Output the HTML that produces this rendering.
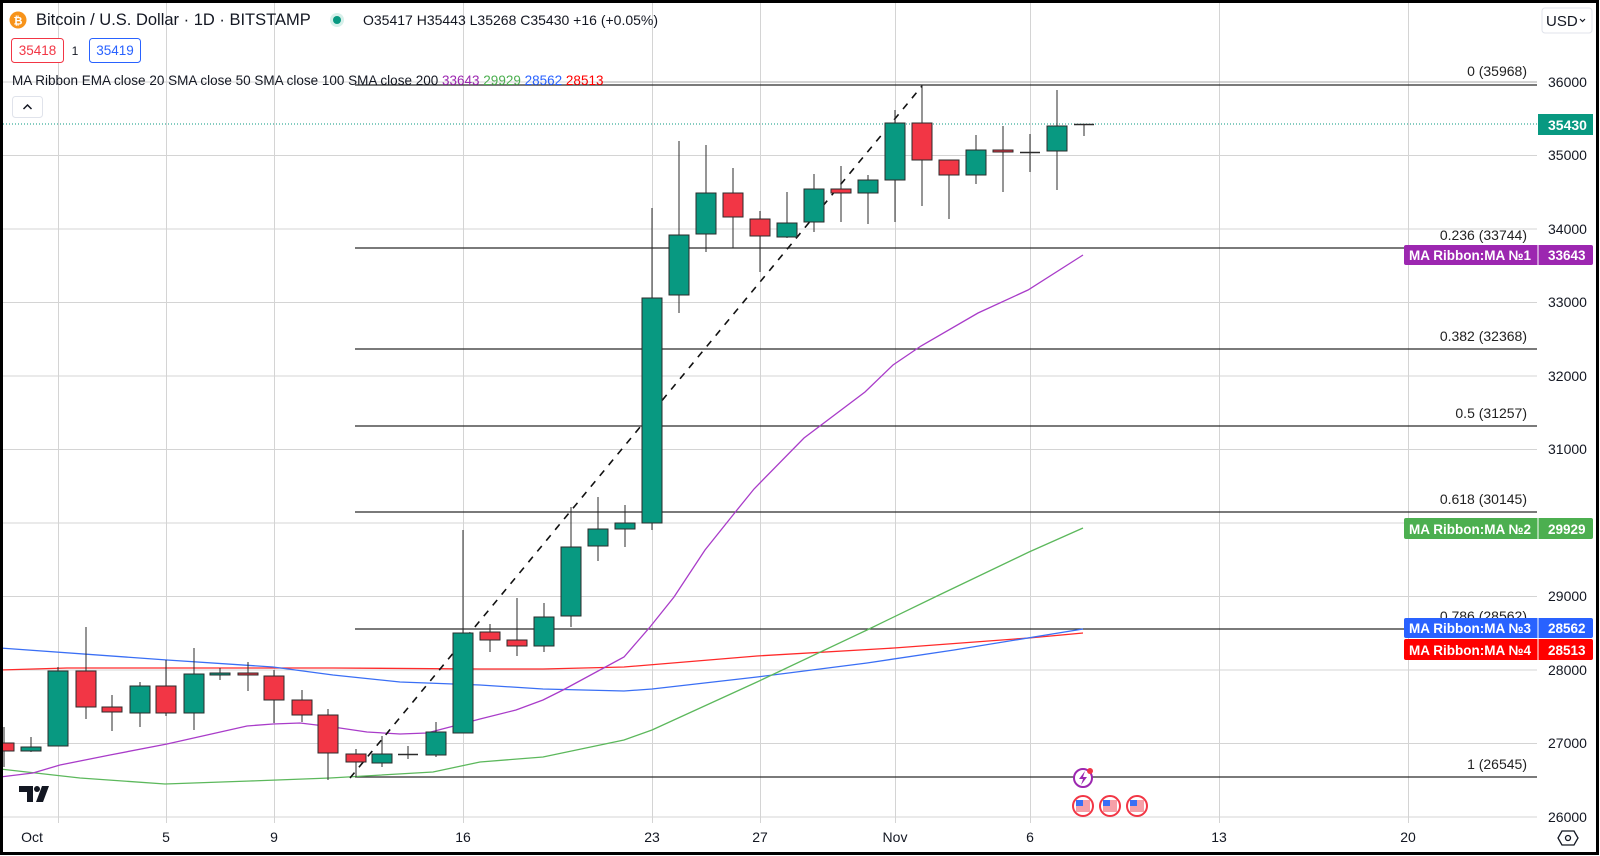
<!DOCTYPE html>
<html><head><meta charset="utf-8"><style>
html,body{margin:0;padding:0;background:#fff;}
body{width:1600px;height:856px;overflow:hidden;position:relative;font-family:"Liberation Sans",sans-serif;}
svg{position:absolute;left:0;top:0;}
</style></head><body>
<svg width="1600" height="856" viewBox="0 0 1600 856" xmlns="http://www.w3.org/2000/svg" font-family="Liberation Sans, sans-serif">
<rect width="1600" height="856" fill="#fff"/>
<g stroke="#d4d4d4" stroke-width="1">
<line x1="0" y1="82" x2="1537" y2="82"/><line x1="0" y1="155.5" x2="1537" y2="155.5"/><line x1="0" y1="229" x2="1537" y2="229"/>
<line x1="0" y1="302.5" x2="1537" y2="302.5"/><line x1="0" y1="376" x2="1537" y2="376"/><line x1="0" y1="449.5" x2="1537" y2="449.5"/>
<line x1="0" y1="523" x2="1537" y2="523"/><line x1="0" y1="596.5" x2="1537" y2="596.5"/><line x1="0" y1="670" x2="1537" y2="670"/>
<line x1="0" y1="743.5" x2="1537" y2="743.5"/><line x1="0" y1="817" x2="1537" y2="817"/>
<line x1="58.5" y1="0" x2="58.5" y2="823"/><line x1="166.5" y1="0" x2="166.5" y2="823"/><line x1="274.5" y1="0" x2="274.5" y2="823"/>
<line x1="463.5" y1="0" x2="463.5" y2="823"/><line x1="652.5" y1="0" x2="652.5" y2="823"/><line x1="760.5" y1="0" x2="760.5" y2="823"/>
<line x1="895.5" y1="0" x2="895.5" y2="823"/><line x1="1030.5" y1="0" x2="1030.5" y2="823"/><line x1="1219.5" y1="0" x2="1219.5" y2="823"/>
<line x1="1408.5" y1="0" x2="1408.5" y2="823"/>
</g>
<g stroke="#2a2a2a" stroke-width="1.2">
<line x1="355" y1="85" x2="1537" y2="85"/>
<line x1="355" y1="248" x2="1537" y2="248"/>
<line x1="355" y1="349" x2="1537" y2="349"/>
<line x1="355" y1="426" x2="1537" y2="426"/>
<line x1="355" y1="512" x2="1537" y2="512"/>
<line x1="355" y1="629" x2="1537" y2="629"/>
<line x1="355" y1="777" x2="1537" y2="777"/>
</g>
<line x1="601" y1="82" x2="1537" y2="82" stroke="#aaa" stroke-width="1"/>
<g font-size="14" fill="#222" text-anchor="end">
<text x="1527" y="76">0 (35968)</text>
<text x="1527" y="240">0.236 (33744)</text>
<text x="1527" y="341">0.382 (32368)</text>
<text x="1527" y="418">0.5 (31257)</text>
<text x="1527" y="504">0.618 (30145)</text>
<text x="1527" y="621">0.786 (28562)</text>
<text x="1527" y="769">1 (26545)</text>
</g>
<line x1="0" y1="124" x2="1537" y2="124" stroke="#089981" stroke-width="1" stroke-dasharray="1 2"/>
<g fill="none" stroke-width="1.3">
<polyline stroke="#ff2a2a" points="0,670 67,668 200,668 333,668 480,669 543,669 624,667 757,656 894,648 1029,638 1083,633"/>
<polyline stroke="#3a6ff5" points="0,648 167,660 273,667 333,675 400,682 480,685 543,689 624,691 652,689 757,677 867,663 954,650 1083,629"/>
<polyline stroke="#5cb85c" points="0,769 80,778 165,784 250,781 330,778 433,772 480,762 543,757 624,740 652,730 757,682 867,630 935,597 1029,552 1083,528"/>
<polyline stroke="#a93cc9" points="0,777 33,773 60,765 110,755 167,744 247,726 273,724 300,723 333,727 367,732 400,734 427,733 450,727 480,719 516,710 543,700 563,690 624,657 650,627 674,597 705,550 737,510 754,489 804,438 865,392 893,365 921,346 978,313 1028,290 1083,255"/>
</g>
<line x1="350" y1="778" x2="922" y2="86" stroke="#111" stroke-width="1.6" stroke-dasharray="7 7"/>
<g stroke="#2b2b2b" stroke-width="1">
<line x1="4" y1="727" x2="4" y2="767"/><rect x="-6" y="743" width="20" height="8" fill="#F23645"/>
<line x1="31" y1="737" x2="31" y2="752"/><rect x="21" y="747" width="20" height="4" fill="#089981"/>
<line x1="58" y1="667" x2="58" y2="746"/><rect x="48" y="671" width="20" height="75" fill="#089981"/>
<line x1="86" y1="627" x2="86" y2="719"/><rect x="76" y="671" width="20" height="36" fill="#F23645"/>
<line x1="112" y1="695" x2="112" y2="731"/><rect x="102" y="707" width="20" height="5" fill="#F23645"/>
<line x1="140" y1="682" x2="140" y2="727"/><rect x="130" y="686" width="20" height="27" fill="#089981"/>
<line x1="166" y1="660" x2="166" y2="716"/><rect x="156" y="686" width="20" height="27" fill="#F23645"/>
<line x1="194" y1="648" x2="194" y2="730"/><rect x="184" y="674" width="20" height="39" fill="#089981"/>
<line x1="220" y1="668" x2="220" y2="680"/><rect x="210" y="673" width="20" height="2" fill="#089981"/>
<line x1="248" y1="662" x2="248" y2="691"/><rect x="238" y="673" width="20" height="2" fill="#F23645"/>
<line x1="274" y1="670" x2="274" y2="723"/><rect x="264" y="676" width="20" height="24" fill="#F23645"/>
<line x1="302" y1="690" x2="302" y2="722"/><rect x="292" y="700" width="20" height="15" fill="#F23645"/>
<line x1="328" y1="709" x2="328" y2="780"/><rect x="318" y="715" width="20" height="38" fill="#F23645"/>
<line x1="356" y1="749" x2="356" y2="777"/><rect x="346" y="754" width="20" height="8" fill="#F23645"/>
<line x1="382" y1="736" x2="382" y2="767"/><rect x="372" y="754" width="20" height="9" fill="#089981"/>
<line x1="408" y1="746" x2="408" y2="759"/><line x1="398" y1="754.5" x2="418" y2="754.5" stroke-width="1.5"/>
<line x1="436" y1="722" x2="436" y2="757"/><rect x="426" y="732" width="20" height="23" fill="#089981"/>
<line x1="463" y1="530" x2="463" y2="733"/><rect x="453" y="633" width="20" height="100" fill="#089981"/>
<line x1="490" y1="624" x2="490" y2="652"/><rect x="480" y="632" width="20" height="8" fill="#F23645"/>
<line x1="517" y1="598" x2="517" y2="656"/><rect x="507" y="640" width="20" height="6" fill="#F23645"/>
<line x1="544" y1="603" x2="544" y2="652"/><rect x="534" y="617" width="20" height="29" fill="#089981"/>
<line x1="571" y1="507" x2="571" y2="627"/><rect x="561" y="547" width="20" height="69" fill="#089981"/>
<line x1="598" y1="497" x2="598" y2="561"/><rect x="588" y="529" width="20" height="17" fill="#089981"/>
<line x1="625" y1="505" x2="625" y2="547"/><rect x="615" y="523" width="20" height="6" fill="#089981"/>
<line x1="652" y1="208" x2="652" y2="530"/><rect x="642" y="298" width="20" height="225" fill="#089981"/>
<line x1="679" y1="141" x2="679" y2="313"/><rect x="669" y="235" width="20" height="60" fill="#089981"/>
<line x1="706" y1="145" x2="706" y2="252"/><rect x="696" y="193" width="20" height="41" fill="#089981"/>
<line x1="733" y1="168" x2="733" y2="248"/><rect x="723" y="193" width="20" height="24" fill="#F23645"/>
<line x1="760" y1="211" x2="760" y2="272"/><rect x="750" y="219" width="20" height="17" fill="#F23645"/>
<line x1="787" y1="192" x2="787" y2="238"/><rect x="777" y="223" width="20" height="14" fill="#089981"/>
<line x1="814" y1="174" x2="814" y2="232"/><rect x="804" y="189" width="20" height="33" fill="#089981"/>
<line x1="841" y1="166" x2="841" y2="222"/><rect x="831" y="189" width="20" height="4" fill="#F23645"/>
<line x1="868" y1="175" x2="868" y2="224"/><rect x="858" y="180" width="20" height="13" fill="#089981"/>
<line x1="895" y1="110" x2="895" y2="222"/><rect x="885" y="123" width="20" height="57" fill="#089981"/>
<line x1="922" y1="85" x2="922" y2="206"/><rect x="912" y="123" width="20" height="37" fill="#F23645"/>
<line x1="949" y1="160" x2="949" y2="219"/><rect x="939" y="160" width="20" height="15" fill="#F23645"/>
<line x1="976" y1="135" x2="976" y2="184"/><rect x="966" y="150" width="20" height="25" fill="#089981"/>
<line x1="1003" y1="126" x2="1003" y2="192"/><rect x="993" y="150" width="20" height="2" fill="#F23645"/>
<line x1="1030" y1="134" x2="1030" y2="172"/><line x1="1020" y1="152.5" x2="1040" y2="152.5" stroke-width="1.5"/>
<line x1="1057" y1="90" x2="1057" y2="190"/><rect x="1047" y="126" width="20" height="25" fill="#089981"/>
<line x1="1084" y1="124" x2="1084" y2="136"/><line x1="1074" y1="124.5" x2="1094" y2="124.5" stroke-width="1.5"/>
</g>
<circle cx="1083" cy="778" r="9" fill="#fff" stroke="#9c27b0" stroke-width="2"/>
<path d="M1085 771 L1079 779 L1083 779 L1081 785 L1087 777 L1083 777 Z" fill="#9c27b0"/>
<circle cx="1090" cy="771" r="3" fill="#f23645"/>
<g>
<circle cx="1083" cy="806" r="10" fill="#fff" stroke="#f23645" stroke-width="2"/><rect x="1076" y="800" width="14" height="12" fill="#f6a0a8"/><rect x="1076" y="800" width="7" height="6" fill="#3a6ff5"/>
<circle cx="1110" cy="806" r="10" fill="#fff" stroke="#f23645" stroke-width="2"/><rect x="1103" y="800" width="14" height="12" fill="#f6a0a8"/><rect x="1103" y="800" width="7" height="6" fill="#3a6ff5"/>
<circle cx="1137" cy="806" r="10" fill="#fff" stroke="#f23645" stroke-width="2"/><rect x="1130" y="800" width="14" height="12" fill="#f6a0a8"/><rect x="1130" y="800" width="7" height="6" fill="#3a6ff5"/>
</g>
<g fill="#131722">
<path d="M19 786 H33 V802 H27 V792 H19 Z"/>
<circle cx="37" cy="789" r="3"/>
<path d="M42 786 H49 L43 802 H36 Z"/>
</g>
<g font-size="14" fill="#131722">
<text x="1548" y="87">36000</text><text x="1548" y="160">35000</text><text x="1548" y="234">34000</text>
<text x="1548" y="307">33000</text><text x="1548" y="381">32000</text><text x="1548" y="454">31000</text>
<text x="1548" y="528">30000</text><text x="1548" y="601">29000</text><text x="1548" y="675">28000</text>
<text x="1548" y="748">27000</text><text x="1548" y="822">26000</text>
</g>
<rect x="1538" y="114" width="55" height="21" fill="#089981"/>
<text x="1548" y="130" font-size="14" font-weight="bold" fill="#fff">35430</text>
<g font-size="13.5" font-weight="bold" fill="#fff">
<rect x="1404" y="245" width="189" height="20" rx="2" fill="#9c27b0"/><line x1="1538" y1="245" x2="1538" y2="265" stroke="#fff"/>
<text x="1409" y="260">MA Ribbon:MA №1</text><text x="1548" y="260">33643</text>
<rect x="1404" y="518" width="189" height="21" rx="2" fill="#4caf50"/><line x1="1538" y1="518" x2="1538" y2="539" stroke="#fff"/>
<text x="1409" y="534">MA Ribbon:MA №2</text><text x="1548" y="534">29929</text>
<rect x="1404" y="618" width="189" height="20" rx="2" fill="#2962ff"/><line x1="1538" y1="618" x2="1538" y2="638" stroke="#fff"/>
<text x="1409" y="633">MA Ribbon:MA №3</text><text x="1548" y="633">28562</text>
<rect x="1404" y="639" width="189" height="21" rx="2" fill="#ff0000"/><line x1="1538" y1="639" x2="1538" y2="660" stroke="#fff"/>
<text x="1409" y="655">MA Ribbon:MA №4</text><text x="1548" y="655">28513</text>
</g>
<rect x="1542" y="8" width="50" height="25" rx="3" fill="#fff" stroke="#e0e3eb"/>
<text x="1546" y="26" font-size="15" fill="#131722">USD</text>
<path d="M1580 19 l2.5 2.5 l2.5 -2.5" fill="none" stroke="#131722" stroke-width="1.2"/>
<g font-size="14" fill="#131722" text-anchor="middle">
<text x="32" y="842">Oct</text><text x="166" y="842">5</text><text x="274" y="842">9</text><text x="463" y="842">16</text>
<text x="652" y="842">23</text><text x="760" y="842">27</text><text x="895" y="842">Nov</text><text x="1030" y="842">6</text>
<text x="1219" y="842">13</text><text x="1408" y="842">20</text>
</g>
<path d="M1562 831 L1574 831 L1578 838 L1574 845 L1562 845 L1558 838 Z" fill="none" stroke="#131722" stroke-width="1.3"/>
<circle cx="1568" cy="838" r="2.5" fill="none" stroke="#131722" stroke-width="1.3"/>
<circle cx="18" cy="20" r="8.5" fill="#f7931a"/>
<text x="18" y="24.5" font-size="11" font-weight="bold" fill="#fff" text-anchor="middle">₿</text>
<text x="36" y="25" font-size="16.5" fill="#131722">Bitcoin / U.S. Dollar · 1D · BITSTAMP</text>
<circle cx="337" cy="20" r="7" fill="#d6f0ea"/><circle cx="337" cy="20" r="4" fill="#089981"/>
<text x="363" y="25" font-size="14" fill="#131722">O35417 H35443 L35268 C35430 +16 (+0.05%)</text>
<rect x="11.5" y="38.5" width="52" height="24" rx="3" fill="#fff" stroke="#f23645"/>
<text x="37.5" y="55" font-size="13.5" fill="#f23645" text-anchor="middle">35418</text>
<text x="75" y="55" font-size="12" fill="#131722" text-anchor="middle">1</text>
<rect x="89.5" y="38.5" width="51" height="24" rx="3" fill="#fff" stroke="#2962ff"/>
<text x="115" y="55" font-size="13.5" fill="#2962ff" text-anchor="middle">35419</text>
<text x="12" y="85" font-size="13.5" fill="#131722">MA Ribbon EMA close 20 SMA close 50 SMA close 100 SMA close 200 <tspan fill="#9c27b0">33643</tspan> <tspan fill="#4caf50">29929</tspan> <tspan fill="#2962ff">28562</tspan> <tspan fill="#ff0000">28513</tspan></text>
<rect x="12.5" y="96.5" width="30" height="21" rx="3" fill="#fff" stroke="#e0e3eb"/>
<path d="M23.5 109 l4 -4 l4 4" fill="none" stroke="#131722" stroke-width="1.5"/>
<rect x="1.5" y="1.5" width="1596" height="852" fill="none" stroke="#000" stroke-width="3"/>
</svg>
</body></html>
